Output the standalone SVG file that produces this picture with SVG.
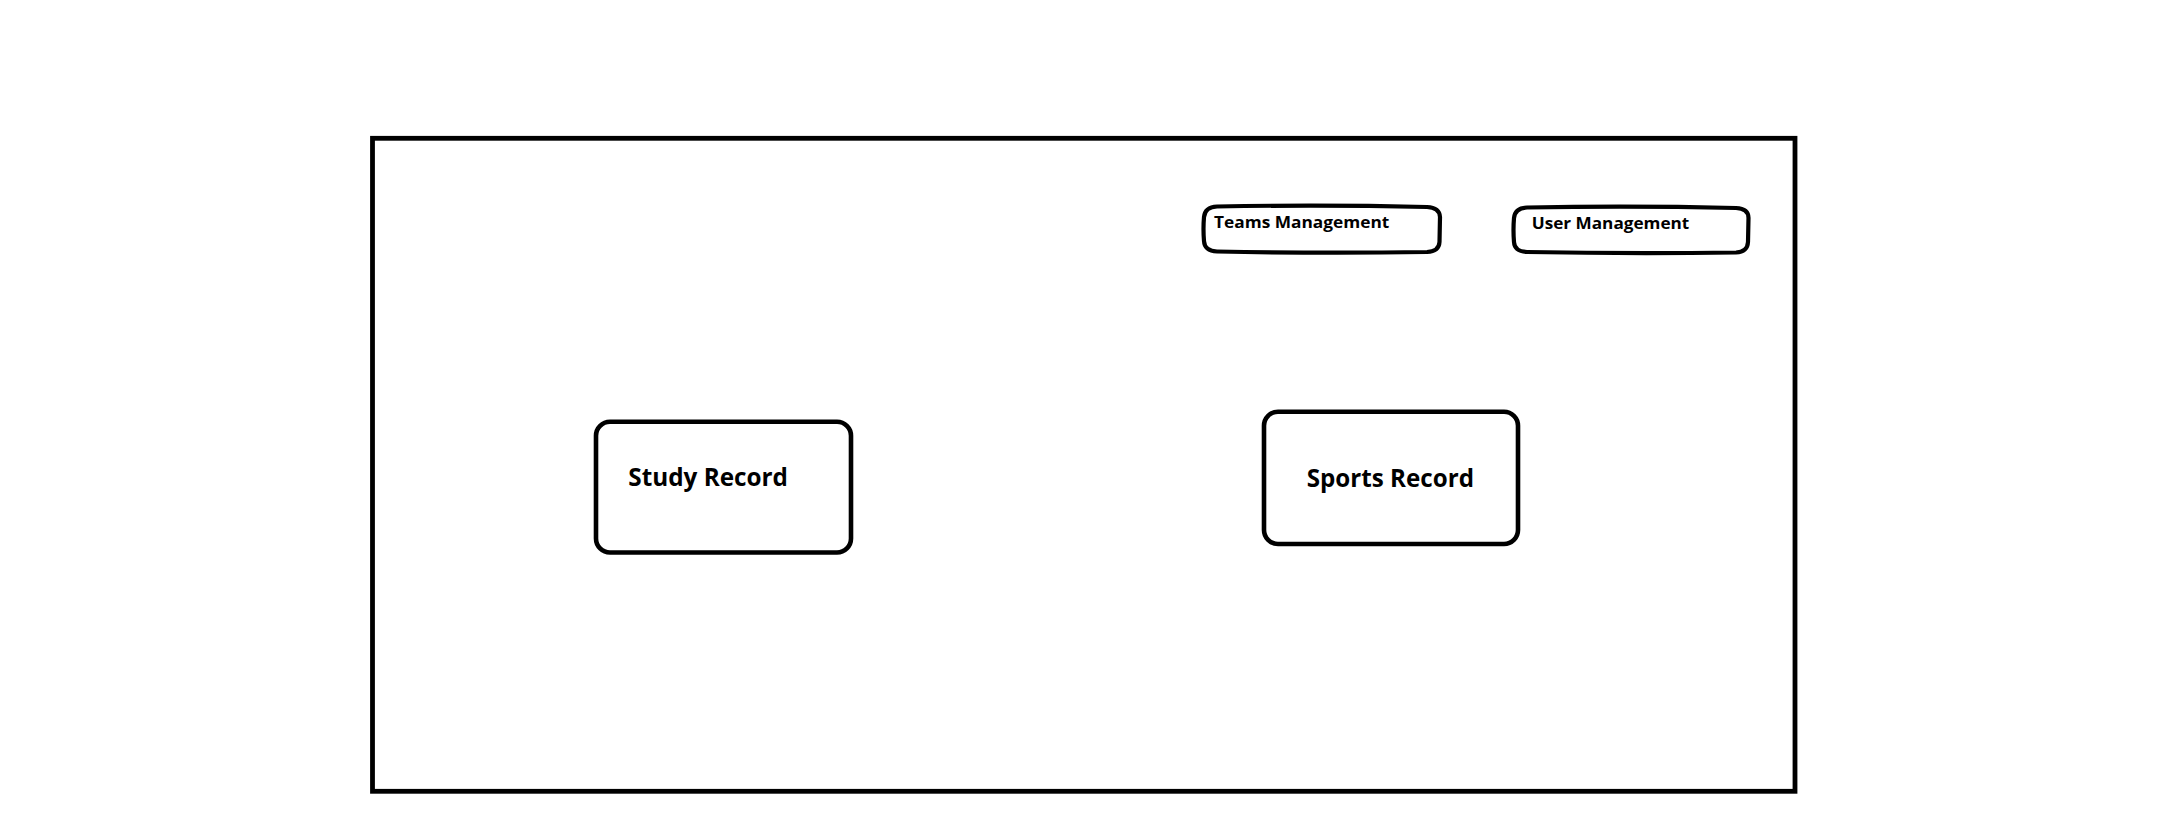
<svg xmlns="http://www.w3.org/2000/svg" width="2177" height="835" viewBox="0 0 2177 835">
  <style>
    .frame { fill: none; stroke: #000; stroke-width: 4.8; }
    .box { fill: #fff; stroke: #000; stroke-width: 4.6; }
    .tag { fill: #fff; stroke: #000; stroke-width: 4.2; }
    .big { font-family: "Open Sans", "Liberation Sans", sans-serif; font-weight: bold; font-size: 25px; fill: #000; }
    .small { font-family: "Open Sans", "Liberation Sans", sans-serif; font-weight: bold; font-size: 16.5px; fill: #000; }
  </style>
  <rect width="2177" height="835" fill="#fff"/>

  <!-- system boundary -->
  <rect class="frame" x="372.5" y="138.3" width="1422.5" height="653"/>

  <g id="connectors"></g>

  <!-- hand-drawn style rounded tags -->
  <g id="teams-management">
    <path class="tag" d="M1217,206.5 Q1322,204.5 1427,207 Q1439.5,207.5 1440,217 L1439.5,242 Q1439,251.5 1427,252 Q1322,253.5 1217,251.5 Q1204.5,251 1204,241 Q1203,229 1204,217 Q1205,207 1217,206.5 Z"/>
    <text class="small" x="1214" y="228.3" textLength="175.3" lengthAdjust="spacingAndGlyphs">Teams Management</text>
  </g>

  <g id="user-management">
    <path class="tag" d="M1527,207.5 Q1631,205.5 1736,208 Q1748.5,208.5 1748.5,218 L1748,242 Q1747.5,252 1736,252.5 Q1631,254 1527,252 Q1514.5,251.5 1514,242 Q1513,230 1514,218 Q1515,208 1527,207.5 Z"/>
    <text class="small" x="1531.7" y="229.3" textLength="157.6" lengthAdjust="spacingAndGlyphs">User Management</text>
  </g>

  <g id="study-record">
    <rect class="box" x="596" y="421.7" width="255" height="130.8" rx="14" ry="14"/>
    <text class="big" x="628.3" y="486" textLength="159.7" lengthAdjust="spacingAndGlyphs">Study Record</text>
  </g>

  <g id="sports-record">
    <rect class="box" x="1264" y="411.7" width="254" height="132.3" rx="14" ry="14"/>
    <text class="big" x="1306.7" y="487.3" textLength="167.3" lengthAdjust="spacingAndGlyphs">Sports Record</text>
  </g>
</svg>
